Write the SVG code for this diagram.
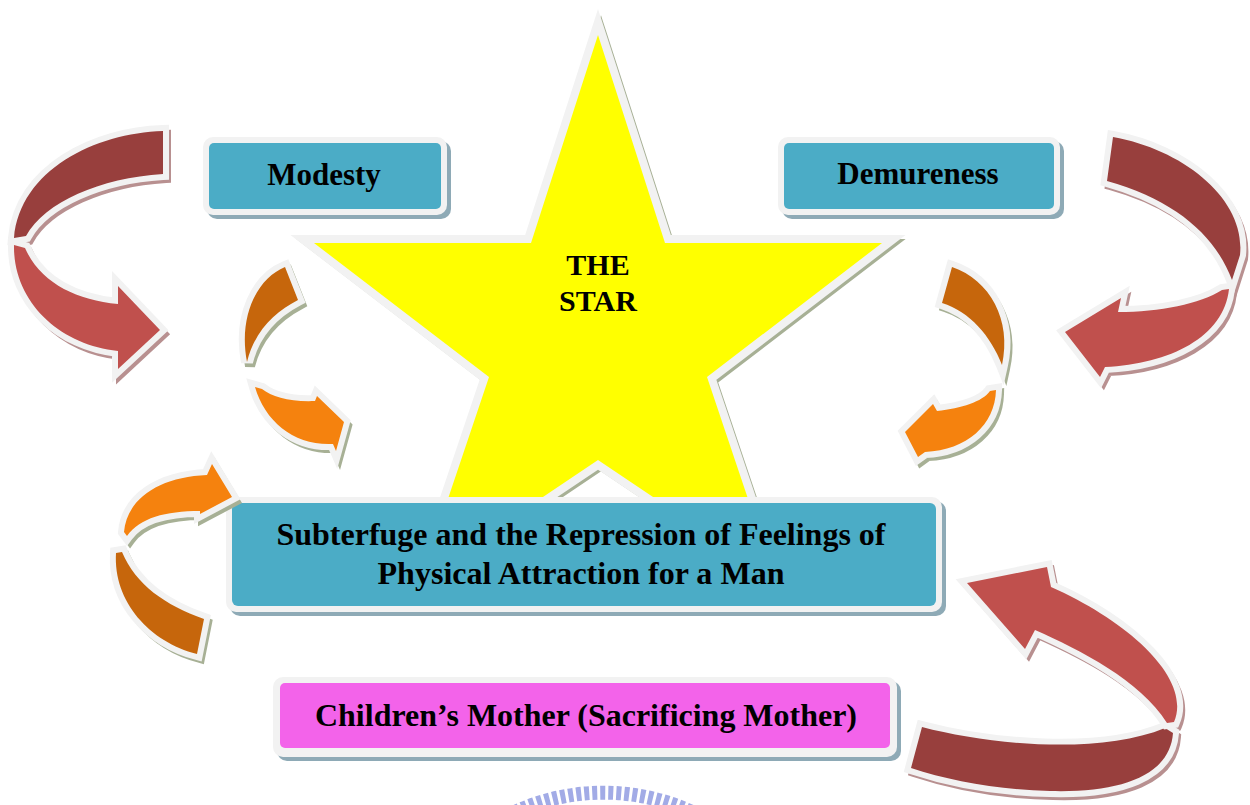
<svg xmlns="http://www.w3.org/2000/svg" xmlns:xlink="http://www.w3.org/1999/xlink" width="1250" height="805" viewBox="0 0 1250 805">
<style>
.txt{font-family:"Liberation Serif","Times New Roman",serif;font-weight:bold;fill:#000;text-anchor:middle}
.bshadow{fill:#8eaab6}
.bborder{fill:#f2f2f2}
.blue{fill:#4bacc6}
.pink{fill:#f363ea}
.shR{fill:#b89090;stroke:#b89090;stroke-width:10;stroke-linejoin:miter}
.shO{fill:#a7b095;stroke:#a7b095;stroke-width:10;stroke-linejoin:miter}
.dR{fill:#983f3d;stroke:#f2f2f2;stroke-width:12;paint-order:stroke;stroke-linejoin:miter}
.lR{fill:#c0504d;stroke:#f2f2f2;stroke-width:12;paint-order:stroke;stroke-linejoin:miter}
.dO{fill:#c6660c;stroke:#f2f2f2;stroke-width:12;paint-order:stroke;stroke-linejoin:miter}
.lO{fill:#f5820e;stroke:#f2f2f2;stroke-width:12;paint-order:stroke;stroke-linejoin:miter}
</style>
<defs>
<polygon id="starShape" points="598,35 665,243 882,243 707,377 775,579 598,460 421,579 489,377 314,243 531,243"/>
<path id="a1d" d="M163,131 C95,133 20,170 14,238 L26,236 C45,202 100,178 163,174 Z"/>
<path id="a1l" d="M14,245 C13,302 60,345 118,351 L118,369 L160,330 L118,286 L118,304 C75,300 40,282 25,248 Z"/>
<path id="a2d" d="M1113,137 C1185,150 1246,200 1240,255 L1232,280 C1215,235 1175,200 1107,181 Z"/>
<path id="a2l" d="M1229,289 C1224,337 1170,364 1105,367 L1100,377 L1065,332 L1121,298 L1118,312 C1160,312 1200,304 1222,290 Z"/>
<path id="a3d" d="M285,267 C258,278 238,315 247,362 C255,330 275,312 298,300 Z"/>
<path id="a3l" d="M255,387 C265,422 295,446 333,444 L336,451 L344,422 L317,396 L315,401 C290,402 272,397 262,389 Z"/>
<path id="a4d" d="M952,267 C990,280 1012,320 1002,365 C990,335 970,312 942,303 Z"/>
<path id="a4l" d="M996,390 C995,425 967,450 925,452 L918,457 L905,432 L933,404 L937,411 C962,408 982,402 990,391 Z"/>
<path id="a5l" d="M124,532 C127,498 160,477 207,475 L212,464 L232,497 L200,514 L200,511 C165,511 140,518 127,536 Z"/>
<path id="a5d" d="M116,553 C113,602 150,642 197,654 L204,619 C165,605 136,585 122,552 Z"/>
<path id="a6d" d="M922,727 C990,745 1100,755 1165,728 L1173,733 C1170,776 1120,793 1050,791 C1000,790 950,781 911,768 Z"/>
<path id="a6l" d="M1174,722 C1192,680 1132,623 1051,587 L1047,567 L967,583 L1025,649 L1035,630 C1080,650 1140,680 1167,723 Z"/>
</defs>
<rect width="1250" height="805" fill="#ffffff"/>

<!-- watermark -->
<path d="M515,812 A212,212 0 0 1 692,812" fill="none" stroke="#a2abe6" stroke-width="14" stroke-dasharray="5 3"/>

<g id="star">
<use href="#starShape" fill="#a7b095" stroke="#a7b095" stroke-width="14" stroke-linejoin="miter" transform="translate(3,3)"/>
<use href="#starShape" fill="#ffff00" stroke="#f2f2f2" stroke-width="16" stroke-linejoin="miter" style="paint-order:stroke"/>
<text class="txt" x="598" y="275" font-size="30">THE</text>
<text class="txt" x="598" y="311" font-size="30">STAR</text>
</g>

<g id="modesty">
<rect class="bshadow" x="207" y="141" width="244" height="78" rx="10"/>
<rect class="bborder" x="203" y="137" width="244" height="78" rx="10"/>
<rect class="blue" x="209" y="143" width="232" height="66" rx="5"/>
<text class="txt" x="324" y="185" font-size="31">Modesty</text>
</g>

<g id="demureness">
<rect class="bshadow" x="782" y="141" width="282" height="78" rx="10"/>
<rect class="bborder" x="778" y="137" width="282" height="78" rx="10"/>
<rect class="blue" x="784" y="143" width="270" height="66" rx="5"/>
<text class="txt" x="918" y="184" font-size="31">Demureness</text>
</g>

<g id="subterfuge">
<rect class="bshadow" x="230" y="501" width="716" height="115" rx="10"/>
<rect class="bborder" x="226" y="497" width="716" height="115" rx="10"/>
<rect class="blue" x="232" y="503" width="704" height="103" rx="6"/>
<text class="txt" x="581" y="545" font-size="31" textLength="609" lengthAdjust="spacingAndGlyphs">Subterfuge and the Repression of Feelings of</text>
<text class="txt" x="581" y="584" font-size="31" textLength="407" lengthAdjust="spacingAndGlyphs">Physical Attraction for a Man</text>
</g>

<g id="mother">
<rect class="bshadow" x="277" y="681" width="624" height="80" rx="10"/>
<rect class="bborder" x="273" y="677" width="624" height="80" rx="10"/>
<rect class="pink" x="280" y="683" width="610" height="65" rx="5"/>
<text class="txt" x="586" y="726" font-size="31" textLength="542" lengthAdjust="spacingAndGlyphs">Children’s Mother (Sacrificing Mother)</text>
</g>

<g id="connectors">
<g id="arrow-topleft">
<use href="#a1d" class="shR" transform="translate(3,4)"/>
<use href="#a1l" class="shR" transform="translate(3,4)"/>
<use href="#a1d" class="dR"/>
<use href="#a1l" class="lR"/>
</g>
<g id="arrow-topright">
<use href="#a2d" class="shR" transform="translate(3,4)"/>
<use href="#a2l" class="shR" transform="translate(3,4)"/>
<use href="#a2d" class="dR"/>
<use href="#a2l" class="lR"/>
</g>
<g id="arrow-midleft">
<use href="#a3d" class="shO" transform="translate(3,4)"/>
<use href="#a3l" class="shO" transform="translate(3,4)"/>
<use href="#a3d" class="dO"/>
<use href="#a3l" class="lO"/>
</g>
<g id="arrow-midright">
<use href="#a4d" class="shO" transform="translate(3,4)"/>
<use href="#a4l" class="shO" transform="translate(3,4)"/>
<use href="#a4d" class="dO"/>
<use href="#a4l" class="lO"/>
</g>
<g id="arrow-lowleft">
<use href="#a5d" class="shO" transform="translate(3,4)"/>
<use href="#a5l" class="shO" transform="translate(3,4)"/>
<use href="#a5d" class="dO"/>
<use href="#a5l" class="lO"/>
</g>
<g id="arrow-lowright">
<use href="#a6d" class="shR" transform="translate(3,4)"/>
<use href="#a6l" class="shR" transform="translate(3,4)"/>
<use href="#a6d" class="dR"/>
<use href="#a6l" class="lR"/>
</g>
</g>
</svg>
